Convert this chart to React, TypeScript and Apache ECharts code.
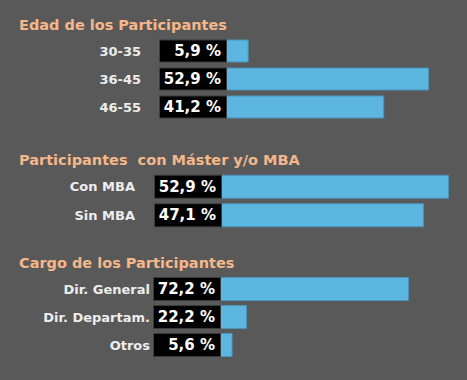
import React, { useEffect, useRef } from "react";
import * as echarts from "echarts";

// ---- Data ----
const edadCategories = ["30-35", "36-45", "46-55"];
const edadValues = [5.9, 52.9, 41.2];

const mbaCategories = ["Con MBA", "Sin MBA"];
const mbaValues = [52.9, 47.1];

const cargoCategories = ["Dir. General", "Dir. Departam.", "Otros"];
const cargoValues = [72.2, 22.2, 5.6];
// bar lengths as drawn in the picture (same % scale as 72,2)
const cargoBarLengths = [72.2, 10.3, 4.8];

const sectionTitles = [
  "Edad de los Participantes",
  "Participantes  con Máster y/o MBA",
  "Cargo de los Participantes",
];

const fmt = (v: number) => v.toFixed(1).replace(".", ",") + " %";

const BG = "#595959";
const TITLE = "#F5B78A";
const LABEL = "#EDEDED";
const BAR = "#5CB6E0";
const BAR_BORDER = "#4A93BA";
const FONT = "DejaVu Sans";

export default function App() {
  const ref = useRef<HTMLDivElement>(null);

  useEffect(() => {
    if (!ref.current) return;
    const chart = echarts.init(ref.current, undefined, { renderer: "svg" });

    const sections = [
      { cats: edadCategories, bars: edadValues, labels: edadValues, top: 37, height: 84, left: 226, max: 62.5, margin: 85, barWidth: 23 },
      { cats: mbaCategories, bars: mbaValues, labels: mbaValues, top: 172.5, height: 57, left: 221, max: 55.7, margin: 86, barWidth: 24 },
      { cats: cargoCategories, bars: cargoBarLengths, labels: cargoValues, top: 275, height: 84, left: 220, max: 91.7, margin: 70, barWidth: 24 },
    ];

    const grid: any[] = [];
    const xAxis: any[] = [];
    const yAxis: any[] = [];
    const series: any[] = [];

    sections.forEach((s, i) => {
      grid.push({ left: s.left, top: s.top, width: 240, height: s.height, containLabel: false });
      xAxis.push({
        type: "value",
        gridIndex: i,
        min: 0,
        max: s.max,
        show: false,
      });
      yAxis.push({
        type: "category",
        gridIndex: i,
        data: s.cats,
        inverse: true,
        axisLine: { show: false },
        axisTick: { show: false },
        splitLine: { show: false },
        axisLabel: {
          color: LABEL,
          fontFamily: FONT,
          fontWeight: "bold",
          fontSize: 13,
          margin: s.margin,
        },
      });
      series.push({
        type: "bar",
        xAxisIndex: i,
        yAxisIndex: i,
        data: s.bars,
        barWidth: s.barWidth,
        itemStyle: { color: BAR, borderColor: BAR_BORDER, borderWidth: 1 },
        label: {
          show: true,
          position: "left",
          distance: 0,
          formatter: (p: any) => fmt(s.labels[p.dataIndex]),
          color: "#FFFFFF",
          fontFamily: FONT,
          fontWeight: "bold",
          fontSize: 15,
          backgroundColor: "#000000",
          borderColor: "#3C3C3C",
          borderWidth: 1,
          width: 57,
          height: s.barWidth - 2,
          lineHeight: s.barWidth - 2,
          align: "right",
          padding: [0, 5, 0, 4],
        },
      });
    });

    const titleTops = [17, 152, 255.5];

    chart.setOption({
      animation: false,
      backgroundColor: BG,
      title: sectionTitles.map((t, i) => ({
        text: t,
        left: 19,
        top: titleTops[i],
        padding: 0,
        textStyle: {
          color: TITLE,
          fontFamily: FONT,
          fontWeight: "bold",
          fontSize: 14.5,
        },
      })),
      grid,
      xAxis,
      yAxis,
      series,
    });

    return () => chart.dispose();
  }, []);

  return (
    <div
      ref={ref}
      style={{ position: "fixed", left: 0, top: 0, width: 467, height: 380 }}
    />
  );
}
